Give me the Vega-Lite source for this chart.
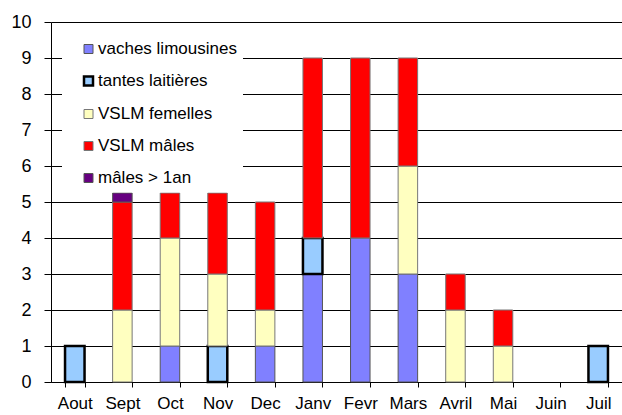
{
  "$schema": "https://vega.github.io/schema/vega-lite/v6.json",
  "width": 571,
  "height": 360,
  "autosize": "none",
  "padding": {"left": 51, "top": 22, "right": 0, "bottom": 33},
  "background": "white",
  "config": {"font": "Liberation Sans", "view": {"stroke": null}},
  "data": {
    "values": [
      {"month": "Aout", "series": "tantes laitières", "value": 1},
      {"month": "Sept", "series": "VSLM femelles", "value": 2},
      {"month": "Sept", "series": "VSLM mâles", "value": 3},
      {"month": "Sept", "series": "mâles > 1an", "value": 0.25},
      {"month": "Oct", "series": "vaches limousines", "value": 1},
      {"month": "Oct", "series": "VSLM femelles", "value": 3},
      {"month": "Oct", "series": "VSLM mâles", "value": 1.25},
      {"month": "Nov", "series": "tantes laitières", "value": 1},
      {"month": "Nov", "series": "VSLM femelles", "value": 2},
      {"month": "Nov", "series": "VSLM mâles", "value": 2.25},
      {"month": "Dec", "series": "vaches limousines", "value": 1},
      {"month": "Dec", "series": "VSLM femelles", "value": 1},
      {"month": "Dec", "series": "VSLM mâles", "value": 3},
      {"month": "Janv", "series": "vaches limousines", "value": 3},
      {"month": "Janv", "series": "tantes laitières", "value": 1},
      {"month": "Janv", "series": "VSLM mâles", "value": 5},
      {"month": "Fevr", "series": "vaches limousines", "value": 4},
      {"month": "Fevr", "series": "VSLM mâles", "value": 5},
      {"month": "Mars", "series": "vaches limousines", "value": 3},
      {"month": "Mars", "series": "VSLM femelles", "value": 3},
      {"month": "Mars", "series": "VSLM mâles", "value": 3},
      {"month": "Avril", "series": "VSLM femelles", "value": 2},
      {"month": "Avril", "series": "VSLM mâles", "value": 1},
      {"month": "Mai", "series": "VSLM femelles", "value": 1},
      {"month": "Mai", "series": "VSLM mâles", "value": 1},
      {"month": "Juil", "series": "tantes laitières", "value": 1}
    ]
  },
  "transform": [
    {"calculate": "indexof(['vaches limousines','tantes laitières','VSLM femelles','VSLM mâles','mâles > 1an'], datum.series)", "as": "k"}
  ],
  "mark": {"type": "bar"},
  "encoding": {
    "x": {
      "field": "month",
      "type": "nominal",
      "scale": {
        "domain": ["Aout", "Sept", "Oct", "Nov", "Dec", "Janv", "Fevr", "Mars", "Avril", "Mai", "Juin", "Juil"],
        "paddingInner": 0.59,
        "paddingOuter": 0.295
      },
      "axis": {
        "title": null,
        "labelAngle": 0,
        "labelFontSize": 17,
        "labelColor": "black",
        "tickBand": "extent",
        "tickSize": 5,
        "tickColor": "black",
        "domainColor": "black",
        "labelPadding": 8,
        "grid": false
      }
    },
    "y": {
      "field": "value",
      "type": "quantitative",
      "stack": "zero",
      "scale": {"domain": [0, 10], "nice": false},
      "axis": {
        "title": null,
        "values": [0, 1, 2, 3, 4, 5, 6, 7, 8, 9, 10],
        "labelFontSize": 18,
        "labelColor": "black",
        "tickSize": 7,
        "tickColor": "black",
        "domainColor": "black",
        "gridColor": "black",
        "gridOpacity": 1,
        "gridWidth": 1,
        "labelPadding": 13
      }
    },
    "fill": {
      "field": "series",
      "type": "nominal",
      "scale": {
        "domain": ["vaches limousines", "tantes laitières", "VSLM femelles", "VSLM mâles", "mâles > 1an"],
        "range": ["#8080FF", "#99CCFF", "#FFFFC0", "#FF0000", "#660080"]
      },
      "legend": {
        "title": null,
        "orient": "none",
        "legendX": 11,
        "legendY": 12.5,
        "fillColor": "white",
        "padding": 6,
        "symbolOffset": 12,
        "symbolType": "square",
        "symbolSize": 81,
        "labelFontSize": 17,
        "labelFont": "Liberation Sans",
        "labelColor": "black",
        "rowPadding": 14,
        "labelOffset": 1
      }
    },
    "stroke": {
      "field": "series",
      "type": "nominal",
      "scale": {
        "domain": ["vaches limousines", "tantes laitières", "VSLM femelles", "VSLM mâles", "mâles > 1an"],
        "range": ["#555555", "#000000", "#777777", "#777777", "#555555"]
      },
      "legend": {"title": null}
    },
    "strokeWidth": {
      "field": "series",
      "type": "nominal",
      "scale": {
        "type": "ordinal",
        "domain": ["vaches limousines", "tantes laitières", "VSLM femelles", "VSLM mâles", "mâles > 1an"],
        "range": [1, 2.5, 1, 1, 1]
      },
      "legend": {"title": null}
    },
    "order": {"field": "k", "type": "quantitative"}
  }
}
